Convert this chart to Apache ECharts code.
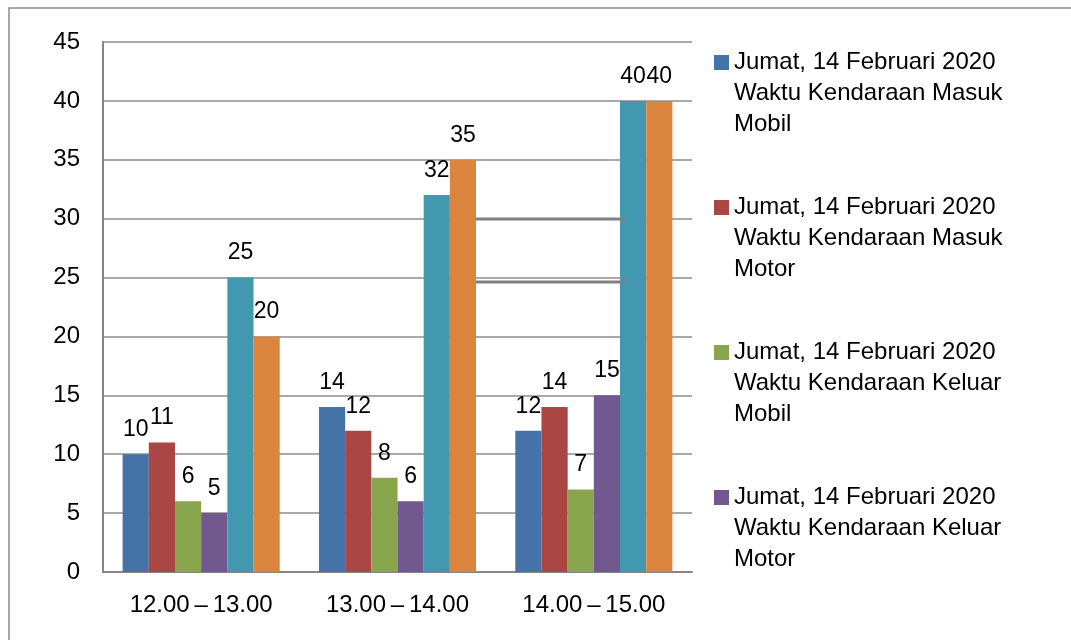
<!DOCTYPE html>
<html>
<head>
<meta charset="utf-8">
<script src="https://cdn.jsdelivr.net/npm/echarts@6/dist/echarts.min.js"></script>
<style>
  html, body { margin: 0; padding: 0; background: #fff; }
  #chart { width: 1071px; height: 640px; }
</style>
</head>
<body>
<div id="chart"></div>
<script>
// Time slots on the x axis
const categories = ['12.00\u2009–\u200913.00', '13.00\u2009–\u200914.00', '14.00\u2009–\u200915.00'];

// Vehicle counts per time slot
const masukMobil = [10, 14, 12];
const masukMotor = [11, 12, 14];
const keluarMobil = [6, 8, 7];
const keluarMotor = [5, 6, 15];
const seri5 = [25, 32, 40];
const seri6 = [20, 35, 40];

// Series names (the first four appear in the legend)
const seriesNames = [
  'Jumat, 14 Februari 2020\nWaktu Kendaraan Masuk\nMobil',
  'Jumat, 14 Februari 2020\nWaktu Kendaraan Masuk\nMotor',
  'Jumat, 14 Februari 2020\nWaktu Kendaraan Keluar\nMobil',
  'Jumat, 14 Februari 2020\nWaktu Kendaraan Keluar\nMotor',
  'Seri 5',
  'Seri 6'
];
const seriesValues = [masukMobil, masukMotor, keluarMobil, keluarMotor, seri5, seri6];
const colors = ['#4572A7', '#AA4643', '#89A54E', '#71588F', '#4198AF', '#DB843D'];

// Y axis scale
const yMin = 0, yMax = 45, yStep = 5;

// Gridline values drawn as heavier segments between the 2nd and 3rd groups
const heavyGridValues = [30, 24.6];

const FONT = '"Liberation Sans", Arial, sans-serif';
const chart = echarts.init(document.getElementById('chart'));

chart.setOption({
  animation: false,
  color: colors,
  textStyle: { fontFamily: FONT, color: '#000' },
  grid: { left: 103, right: 379, top: 42, bottom: 68, containLabel: false },
  legend: {
    orient: 'vertical',
    left: 714,
    top: -15,
    padding: 0,
    data: seriesNames.slice(0, 4),
    icon: 'rect',
    itemWidth: 15,
    itemHeight: 15,
    itemGap: -10,
    // two leading blank lines keep the marker level with the first text line
    formatter: name => '\n\n' + name,
    textStyle: {
      fontFamily: FONT,
      fontSize: 24,
      lineHeight: 31,
      color: '#000'
    },
    selectedMode: false
  },
  xAxis: {
    type: 'category',
    data: categories,
    axisLine: { lineStyle: { color: '#868686', width: 2 } },
    axisTick: { show: false },
    axisLabel: { fontFamily: FONT, fontSize: 24, color: '#000', margin: 21 },
    splitLine: { show: false }
  },
  yAxis: {
    type: 'value',
    min: yMin,
    max: yMax,
    interval: yStep,
    axisLine: { show: true, lineStyle: { color: '#868686', width: 2 } },
    axisTick: { show: false },
    axisLabel: { fontFamily: FONT, fontSize: 24, color: '#000', margin: 23 },
    splitLine: { lineStyle: { color: '#8c8c8c', width: 1.5 } }
  },
  series: seriesValues.map((vals, i) => ({
    name: seriesNames[i],
    type: 'bar',
    data: vals,
    barGap: '0%',
    barCategoryGap: '20%',
    itemStyle: { color: colors[i] },
    label: {
      show: true,
      position: 'top',
      distance: 13,
      fontFamily: FONT,
      fontSize: 23,
      color: '#000'
    }
  }))
});

// Frame around the chart, plus heavier gridline segments in the gap
// between the 2nd and 3rd category groups, placed through the axes.
const lastSeries = seriesValues.length - 1;
const grpEndRect = chart.getModel().getSeriesByIndex(lastSeries).getData().getItemLayout(1);
const grpStartRect = chart.getModel().getSeriesByIndex(4).getData().getItemLayout(2);
const segX1 = grpEndRect.x + grpEndRect.width;
const segX2 = grpStartRect.x + 5;

const graphics = [{
  type: 'rect',
  shape: { x: 9, y: 8, width: 1100, height: 700 },
  style: { fill: 'none', stroke: '#8c8c8c', lineWidth: 1.5 },
  silent: true
}];
heavyGridValues.forEach(v => {
  const y = Math.round(chart.convertToPixel({ yAxisIndex: 0 }, v));
  graphics.push({
    type: 'line',
    shape: { x1: segX1, y1: y, x2: segX2, y2: y },
    style: { stroke: '#808080', lineWidth: 3 },
    z: 10,
    silent: true
  });
});
chart.setOption({ graphic: graphics });
</script>
</body>
</html>
